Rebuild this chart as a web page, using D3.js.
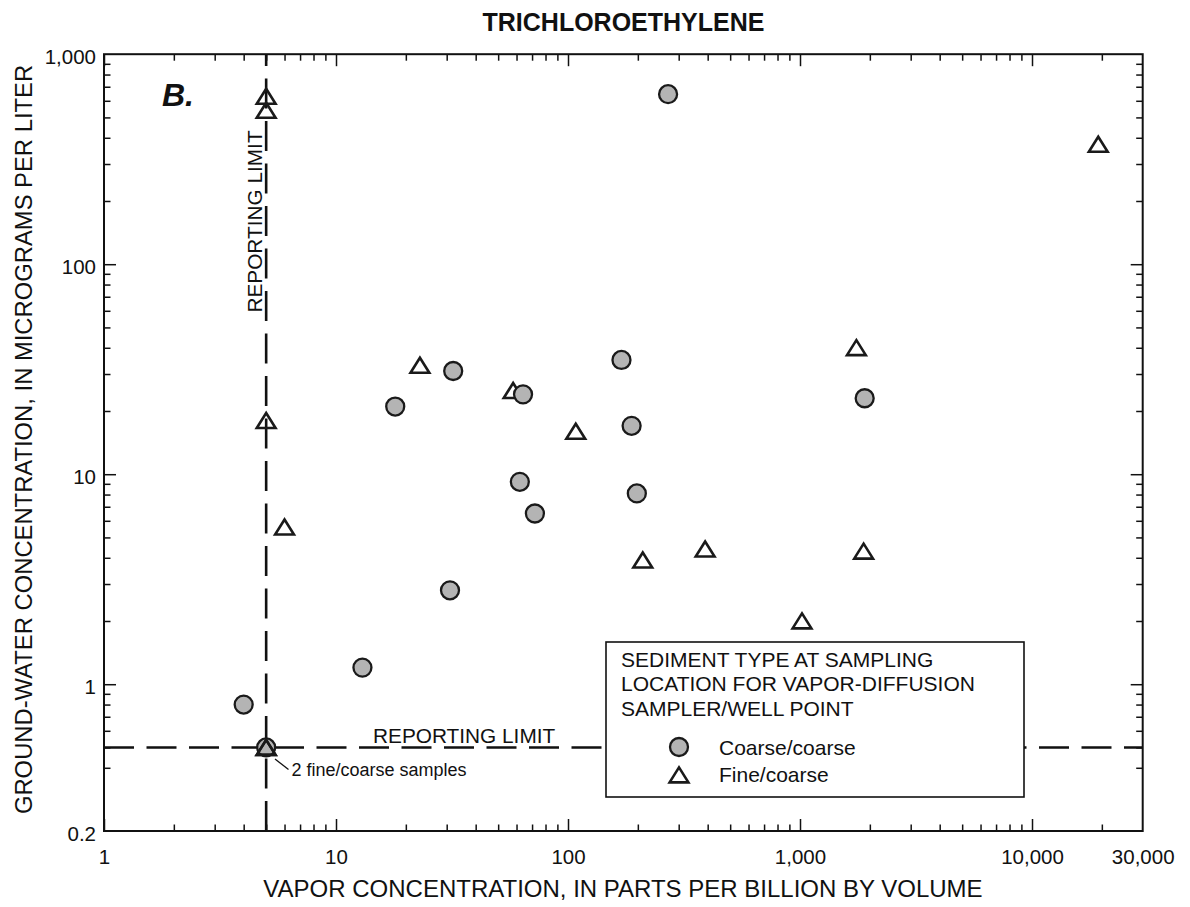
<!DOCTYPE html>
<html>
<head>
<meta charset="utf-8">
<script src="https://cdn.jsdelivr.net/npm/d3@7"></script>
<style>
  html, body { margin: 0; padding: 0; background: #fff; }
  svg { display: block; font-family: "Liberation Sans", Arial, Helvetica, sans-serif; }
</style>
</head>
<body>
<svg id="chart" width="1190" height="907"></svg>
<script>
// ---------- DATA ----------
// Coarse/coarse samples: [vapor ppbv, ground-water ug/L]
const coarseVapor = [270, 32, 18, 64, 62, 72, 31, 170, 1900, 188, 198, 13, 4, 5];
const coarseWater = [645, 31, 21, 24, 9.2, 6.5, 2.8, 35, 23, 17, 8.1, 1.2, 0.8, 0.5];
// Fine/coarse samples
const fineVapor = [5, 5, 23, 58, 5, 6, 1750, 108, 210, 390, 1880, 1020, 19300, 5, 5];
const fineWater = [630, 540, 33, 25, 18, 5.6, 40, 16, 3.9, 4.4, 4.3, 2.0, 372, 0.5, 0.5];

const xTickValues = [1, 10, 100, 1000, 10000, 30000];
const xTickLabels = ["1", "10", "100", "1,000", "10,000", "30,000"];
const yTickValues = [0.2, 1, 10, 100, 1000];
const yTickLabels = ["0.2", "1", "10", "100", "1,000"];

const vaporReportingLimit = 5;
const waterReportingLimit = 0.5;

const titleText = "TRICHLOROETHYLENE";
const xLabel = "VAPOR CONCENTRATION, IN PARTS PER BILLION BY VOLUME";
const yLabel = "GROUND-WATER CONCENTRATION, IN MICROGRAMS PER LITER";
const legendTitle = ["SEDIMENT TYPE AT SAMPLING", "LOCATION FOR VAPOR-DIFFUSION", "SAMPLER/WELL POINT"];
const seriesNames = ["Coarse/coarse", "Fine/coarse"];

// ---------- LAYOUT ----------
const L = 104, R = 1142.7, T = 54.2, B = 831;
const svg = d3.select("#chart");

const x = d3.scaleLog().domain([1, 30000]).range([L, R]);
const y = d3.scaleLog().domain([0.2, 1000]).range([B, T]);

const xMajor = [1, 10, 100, 1000, 10000];
const yMajor = [1, 10, 100];
const xMinor = x.ticks().filter(v => !xMajor.includes(v) && v < 30000);
const yMinor = y.ticks().filter(v => !yMajor.includes(v) && v >= 0.4 && v < 1000);

const MAJ = 12, MIN = 6.5;
function clean(g) {
  g.select(".domain").remove();
  g.selectAll(".tick line").attr("stroke", "#111").attr("stroke-width", 1.5);
}
// bottom
svg.append("g").attr("transform", `translate(0,${B})`)
  .call(d3.axisBottom(x).tickValues(xMajor).tickSize(-MAJ).tickFormat("")).call(clean);
svg.append("g").attr("transform", `translate(0,${B})`)
  .call(d3.axisBottom(x).tickValues(xMinor).tickSize(-MIN).tickFormat("")).call(clean);
// top
svg.append("g").attr("transform", `translate(0,${T})`)
  .call(d3.axisTop(x).tickValues(xMajor).tickSize(-MAJ).tickFormat("")).call(clean);
svg.append("g").attr("transform", `translate(0,${T})`)
  .call(d3.axisTop(x).tickValues(xMinor).tickSize(-MIN).tickFormat("")).call(clean);
// left
svg.append("g").attr("transform", `translate(${L},0)`)
  .call(d3.axisLeft(y).tickValues(yMajor).tickSize(-MAJ).tickFormat("")).call(clean);
svg.append("g").attr("transform", `translate(${L},0)`)
  .call(d3.axisLeft(y).tickValues(yMinor).tickSize(-MIN).tickFormat("")).call(clean);
// right
svg.append("g").attr("transform", `translate(${R},0)`)
  .call(d3.axisRight(y).tickValues(yMajor).tickSize(-MAJ).tickFormat("")).call(clean);
svg.append("g").attr("transform", `translate(${R},0)`)
  .call(d3.axisRight(y).tickValues(yMinor).tickSize(-MIN).tickFormat("")).call(clean);

// tick labels
const gxl = svg.append("g").attr("transform", `translate(0,${B})`)
  .call(d3.axisBottom(x).tickValues(xTickValues).tickSize(0).tickPadding(18.5)
    .tickFormat((d, i) => xTickLabels[i]));
gxl.select(".domain").remove();
gxl.selectAll("text").attr("font-size", 20.5).attr("fill", "#111")
  .attr("font-family", "Liberation Sans, Arial, sans-serif");

const gyl = svg.append("g").attr("transform", `translate(${L},0)`)
  .call(d3.axisLeft(y).tickValues(yTickValues).tickSize(0).tickPadding(8)
    .tickFormat((d, i) => yTickLabels[i]));
gyl.select(".domain").remove();
gyl.selectAll("text").attr("font-size", 20.5).attr("fill", "#111").attr("dy", "0.45em")
  .attr("font-family", "Liberation Sans, Arial, sans-serif");

// ---------- REPORTING LIMIT LINES ----------
svg.append("line")
  .attr("x1", x(vaporReportingLimit)).attr("x2", x(vaporReportingLimit))
  .attr("y1", B).attr("y2", T)
  .attr("stroke", "#111").attr("stroke-width", 2.6).attr("stroke-dasharray", "30,12.5");
svg.append("line")
  .attr("x1", L).attr("x2", R)
  .attr("y1", y(waterReportingLimit)).attr("y2", y(waterReportingLimit))
  .attr("stroke", "#111").attr("stroke-width", 2.6).attr("stroke-dasharray", "30,12.5");

// plot border
svg.append("rect").attr("x", L).attr("y", T).attr("width", R - L).attr("height", B - T)
  .attr("fill", "none").attr("stroke", "#111").attr("stroke-width", 2);

// ---------- LEGEND BOX ----------
const leg = svg.append("g");
leg.append("rect").attr("x", 606).attr("y", 642).attr("width", 418).attr("height", 155)
  .attr("fill", "#fff").attr("stroke", "#111").attr("stroke-width", 1.6);
legendTitle.forEach((t, i) => {
  leg.append("text").attr("x", 621).attr("y", 666.5 + i * 24.7)
    .attr("font-size", 21).attr("fill", "#111").text(t);
});

// ---------- MARKERS ----------
const triPath = "M0,-7.6L9.4,7.4L-9.4,7.4Z";
const fine = fineVapor.map((v, i) => ({ x: v, y: fineWater[i] }));
const coarse = coarseVapor.map((v, i) => ({ x: v, y: coarseWater[i] }));

function drawTri(sel) {
  sel.append("path").attr("d", triPath)
    .attr("transform", d => `translate(${x(d.x)},${y(d.y)})`)
    .attr("fill", "none").attr("stroke", "#1a1a1a").attr("stroke-width", 2.6)
    .attr("stroke-linejoin", "miter");
}
// fine/coarse triangles (open)
drawTri(svg.append("g").selectAll("g").data(fine.filter(d => d.y > waterReportingLimit)).join("g"));
// coarse/coarse circles
svg.append("g").selectAll("circle").data(coarse).join("circle")
  .attr("cx", d => x(d.x)).attr("cy", d => y(d.y)).attr("r", 9)
  .attr("fill", "#b4b4b4").attr("stroke", "#1a1a1a").attr("stroke-width", 2.3);
// triangles at the reporting limit, drawn on top
drawTri(svg.append("g").selectAll("g").data(fine.filter(d => d.y <= waterReportingLimit)).join("g"));

// legend symbols
leg.append("circle").attr("cx", 679).attr("cy", 747).attr("r", 9)
  .attr("fill", "#b4b4b4").attr("stroke", "#1a1a1a").attr("stroke-width", 2.3);
leg.append("path").attr("d", triPath).attr("transform", "translate(679,775)")
  .attr("fill", "none").attr("stroke", "#1a1a1a").attr("stroke-width", 2.6);
leg.append("text").attr("x", 719).attr("y", 755).attr("font-size", 21).attr("fill", "#111").text(seriesNames[0]);
leg.append("text").attr("x", 719).attr("y", 781.5).attr("font-size", 21).attr("fill", "#111").text(seriesNames[1]);

// ---------- ANNOTATIONS ----------
svg.append("text")
  .attr("transform", `translate(262,221.5) rotate(-90)`)
  .attr("text-anchor", "middle").attr("font-size", 20.8).attr("fill", "#111")
  .text("REPORTING LIMIT");
svg.append("text").attr("x", 373).attr("y", 743)
  .attr("font-size", 20.8).attr("fill", "#111").text("REPORTING LIMIT");

svg.append("line").attr("x1", 275).attr("y1", 759).attr("x2", 288.5).attr("y2", 769.5)
  .attr("stroke", "#111").attr("stroke-width", 1.3);
svg.append("text").attr("x", 291.5).attr("y", 776)
  .attr("font-size", 18).attr("fill", "#111").text("2 fine/coarse samples");

svg.append("text").attr("x", 162).attr("y", 106)
  .attr("font-size", 32).attr("font-weight", "bold").attr("font-style", "italic")
  .attr("fill", "#111").text("B.");

// title
svg.append("text").attr("x", 623.5).attr("y", 31).attr("text-anchor", "middle")
  .attr("font-size", 25).attr("font-weight", "bold")
  .attr("fill", "#111").text(titleText);

// axis labels
svg.append("text").attr("x", 623).attr("y", 897).attr("text-anchor", "middle")
  .attr("font-size", 24).attr("fill", "#111").text(xLabel);
svg.append("text").attr("transform", "translate(31.5,439.5) rotate(-90)")
  .attr("text-anchor", "middle").attr("font-size", 23.8).attr("fill", "#111").text(yLabel);
</script>
</body>
</html>
